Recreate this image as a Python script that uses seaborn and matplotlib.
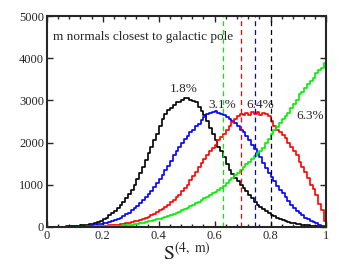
import numpy as np
import pandas as pd
import matplotlib
matplotlib.use('Agg')
import matplotlib.pyplot as plt
from matplotlib.ticker import MultipleLocator
import seaborn as sns

sns.set_style('ticks')
plt.rcParams['font.family'] = ['Liberation Serif', 'DejaVu Serif']
plt.rcParams['mathtext.fontset'] = 'stix'

# Histogram counts, 100 bins of width 0.01 over [0, 1]
black_counts = [0, 0, 1, 2, 4, 6, 8, 11, 14, 18,
                22, 28, 34, 42, 50, 60, 75, 95, 120, 150,
                180, 220, 270, 330, 380, 440, 510, 580, 680, 780,
                880, 1000, 1130, 1280, 1420, 1580, 1750, 1900, 2050, 2200,
                2400, 2550, 2680, 2780, 2820, 2880, 2950, 2970, 3000, 3050,
                3050, 3000, 2980, 2950, 2850, 2750, 2650, 2500, 2350, 2200,
                2050, 1900, 1800, 1650, 1500, 1350, 1250, 1150, 1080, 1000,
                920, 850, 760, 690, 600, 520, 470, 420, 370, 320,
                285, 250, 220, 190, 165, 140, 120, 100, 85, 72,
                62, 52, 44, 36, 28, 22, 16, 11, 6, 3]
blue_counts = [0, 0, 0, 1, 2, 3, 4, 5, 7, 9,
               11, 14, 17, 21, 26, 32, 40, 50, 60, 70,
               85, 100, 120, 140, 165, 190, 220, 260, 300, 340,
               390, 440, 500, 560, 630, 700, 780, 860, 950, 1040,
               1130, 1230, 1340, 1450, 1560, 1700, 1800, 1900, 2000, 2080,
               2150, 2250, 2300, 2400, 2450, 2530, 2600, 2680, 2700, 2730,
               2750, 2700, 2680, 2650, 2600, 2560, 2500, 2460, 2400, 2300,
               2250, 2150, 2050, 1950, 1850, 1750, 1650, 1520, 1400, 1280,
               1180, 1080, 980, 880, 800, 720, 620, 530, 450, 380,
               330, 270, 220, 180, 140, 110, 80, 50, 30, 10]
red_counts = [0, 0, 0, 0, 1, 1, 2, 2, 3, 4,
              5, 6, 7, 8, 10, 12, 14, 16, 18, 22,
              26, 30, 35, 40, 45, 50, 60, 70, 80, 95,
              110, 130, 150, 170, 190, 210, 240, 270, 310, 350,
              390, 430, 480, 530, 580, 640, 700, 760, 840, 920,
              1000, 1100, 1200, 1300, 1420, 1520, 1600, 1700, 1800, 1880,
              1950, 2050, 2120, 2200, 2300, 2400, 2480, 2550, 2620, 2680,
              2650, 2700, 2650, 2720, 2680, 2720, 2650, 2700, 2680, 2620,
              2500, 2400, 2300, 2250, 2180, 2100, 2000, 1900, 1800, 1700,
              1550, 1420, 1300, 1150, 1000, 900, 750, 550, 400, 150]
green_counts = [0, 0, 0, 0, 0, 1, 1, 1, 2, 2,
                3, 3, 4, 5, 6, 7, 8, 9, 10, 12,
                14, 16, 18, 20, 23, 26, 30, 35, 40, 45,
                55, 65, 75, 85, 100, 115, 130, 145, 160, 175,
                190, 210, 230, 250, 270, 300, 330, 360, 390, 420,
                450, 490, 530, 570, 600, 640, 680, 720, 760, 800,
                830, 880, 930, 980, 1040, 1100, 1160, 1220, 1280, 1350,
                1420, 1480, 1540, 1600, 1680, 1750, 1800, 1880, 1980, 2080,
                2200, 2300, 2380, 2470, 2560, 2620, 2700, 2820, 2920, 3000,
                3150, 3200, 3300, 3400, 3450, 3520, 3650, 3720, 3780, 3880]

series_names = ['m=1', 'm=2', 'm=3', 'm=4']
series_colors = ['black', '#0000ff', '#ff0000', '#00f000']
series_counts = [black_counts, blue_counts, red_counts, green_counts]

# 95th-percentile markers and their labels
cut_values = [0.803, 0.743, 0.696, 0.630]
pct_labels = ['1.8%', '3.1%', '6.4%', '6.3%']
pct_x = [0.491, 0.627, 0.762, 0.943]
pct_y = [3270, 2900, 2900, 2620]

bin_centers = np.arange(100) * 0.01 + 0.005

fig = plt.figure(figsize=(3.58, 2.77), dpi=100)
ax = fig.add_axes([0.131, 0.181, 0.781, 0.761])

for name, color, counts in zip(series_names, series_colors, series_counts):
    df = pd.DataFrame({'S': bin_centers, 'n': counts})
    sns.histplot(data=df, x='S', weights='n', bins=100, binrange=(0, 1), element='step',
                 fill=False, color=color, linewidth=1.2, ax=ax)

for color, cut in zip(series_colors, cut_values):
    ax.axvline(cut, color=color, linestyle=(0, (4, 3)), linewidth=0.9)

for lab, x, y in zip(pct_labels, pct_x, pct_y):
    ax.text(x, y, lab, ha='center', va='center', fontsize=9.5)

ax.text(0.022, 4500, 'm normals closest to galactic pole', ha='left', va='center', fontsize=9.5)

ax.set_xlim(0, 1)
ax.set_ylim(0, 5000)
ax.xaxis.set_major_locator(MultipleLocator(0.2))
ax.xaxis.set_minor_locator(MultipleLocator(0.04))
ax.yaxis.set_major_locator(MultipleLocator(1000))
ax.set_xticks([0, 0.2, 0.4, 0.6, 0.8, 1.0])
ax.set_xticklabels(['0', '0.2', '0.4', '0.6', '0.8', '1'])
ax.tick_params(which='both', direction='in', top=True, right=True, labelsize=9, width=1, pad=2)
ax.tick_params(which='major', length=4)
ax.tick_params(which='minor', length=2.5)
for sp in ax.spines.values():
    sp.set_linewidth(1.5)
ax.set_ylabel('')
ax.set_xlabel(r'$\mathrm{S}^{\mathrm{(4,\ m)}}$', fontsize=14, labelpad=0)

fig.savefig('out.png', dpi=100)
